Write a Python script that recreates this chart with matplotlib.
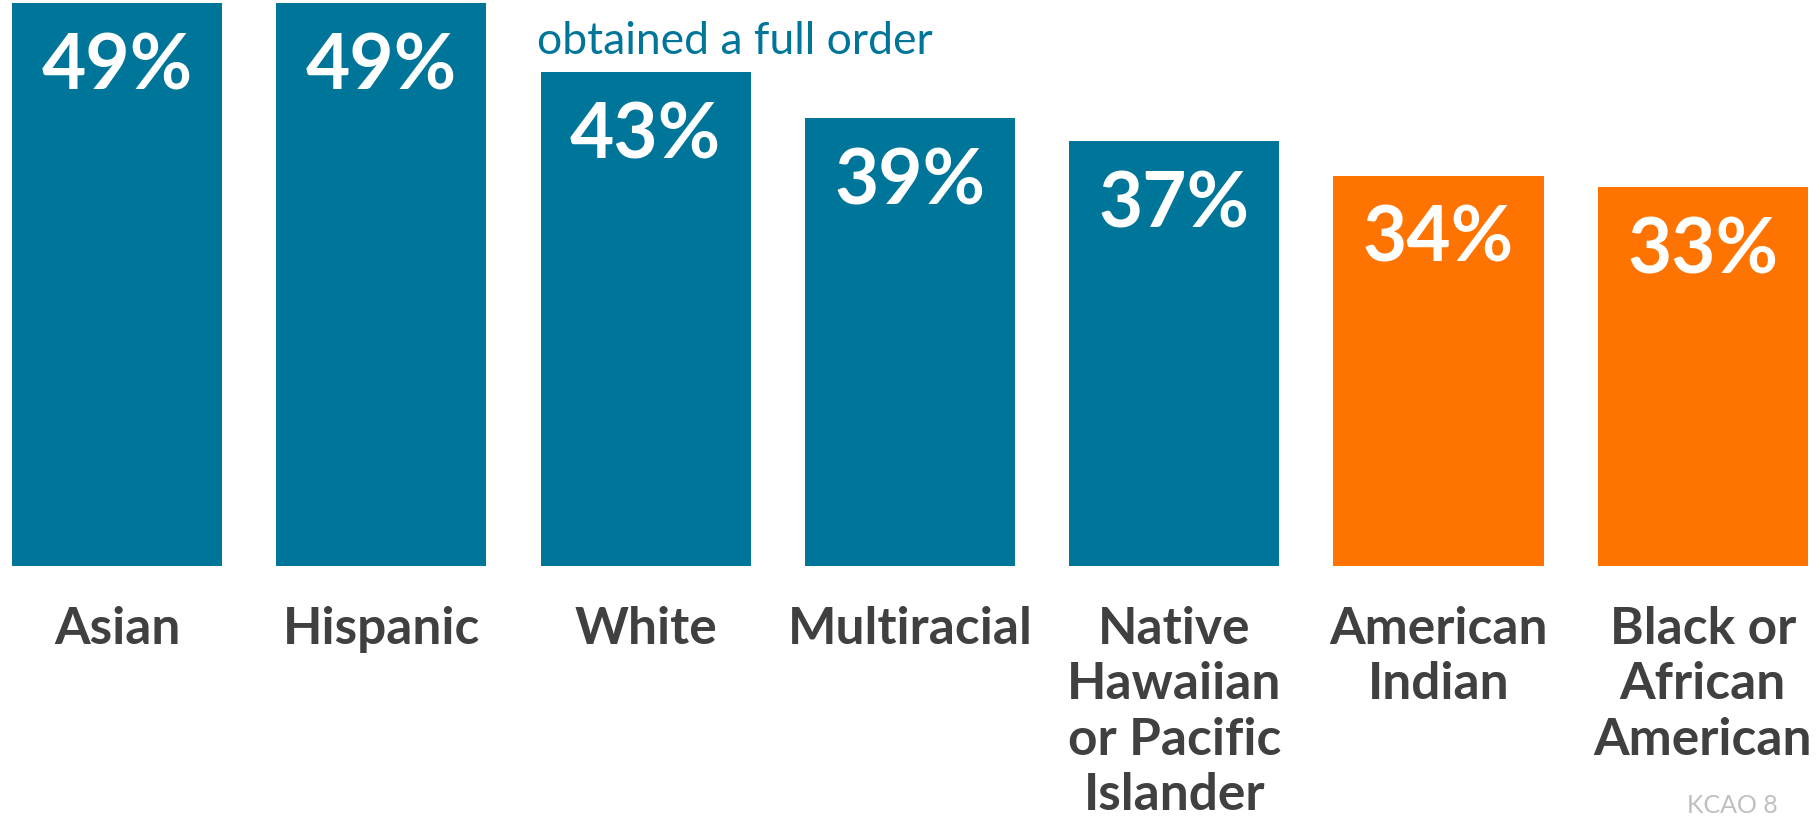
import matplotlib
matplotlib.use("Agg")
import matplotlib.pyplot as plt

categories = ["Asian", "Hispanic", "White", "Multiracial",
              "Native\nHawaiian\nor Pacific\nIslander", "American\nIndian",
              "Black or\nAfrican\nAmerican"]
values = [49, 49, 43, 39, 37, 34, 33]
value_labels = ["49%", "49%", "43%", "39%", "37%", "34%", "33%"]
groups = ["teal", "teal", "teal", "teal", "teal", "orange", "orange"]

palette = {"teal": "#00759A", "orange": "#FF7300"}

W, H = 1820, 820
fig = plt.figure(figsize=(W / 100, H / 100), dpi=100)
ax = fig.add_axes([0, (H - 567) / H, 1, 567 / H])

x = list(range(len(categories)))
ax.bar(x, values, width=0.795, color=[palette[g] for g in groups], linewidth=0)
ax.set_xlim(-117 / 264.3, (W - 117) / 264.3)
ax.set_ylim(0, 567 / 11.48)
ax.axis("off")

for xi, v, lab in zip(x, values, value_labels):
    ax.annotate(lab, (xi, v), xytext=(0, -85), textcoords="offset pixels",
                ha="center", va="baseline", color="white",
                fontsize=55, fontweight="bold", family=["Lato", "DejaVu Sans"])

for xi, cat in zip(x, categories):
    ax.annotate(cat, (xi, 0), xytext=(0, -39), textcoords="offset pixels",
                ha="center", va="top", color="#404040", linespacing=1.22,
                fontsize=37, fontweight="bold", family=["Lato", "DejaVu Sans"],
                annotation_clip=False)

fig.text(537 / W, 1 - 54.5 / H, "obtained a full order", ha="left", va="baseline",
         color="#00759A", fontsize=32, family=["Lato", "DejaVu Sans"])

fig.text(1687 / W, 3 / H, "KCAO 8", ha="left", va="bottom",
         color="#BFBFBF", fontsize=18, family=["Lato", "DejaVu Sans"])

fig.savefig("out.png", dpi=100)
